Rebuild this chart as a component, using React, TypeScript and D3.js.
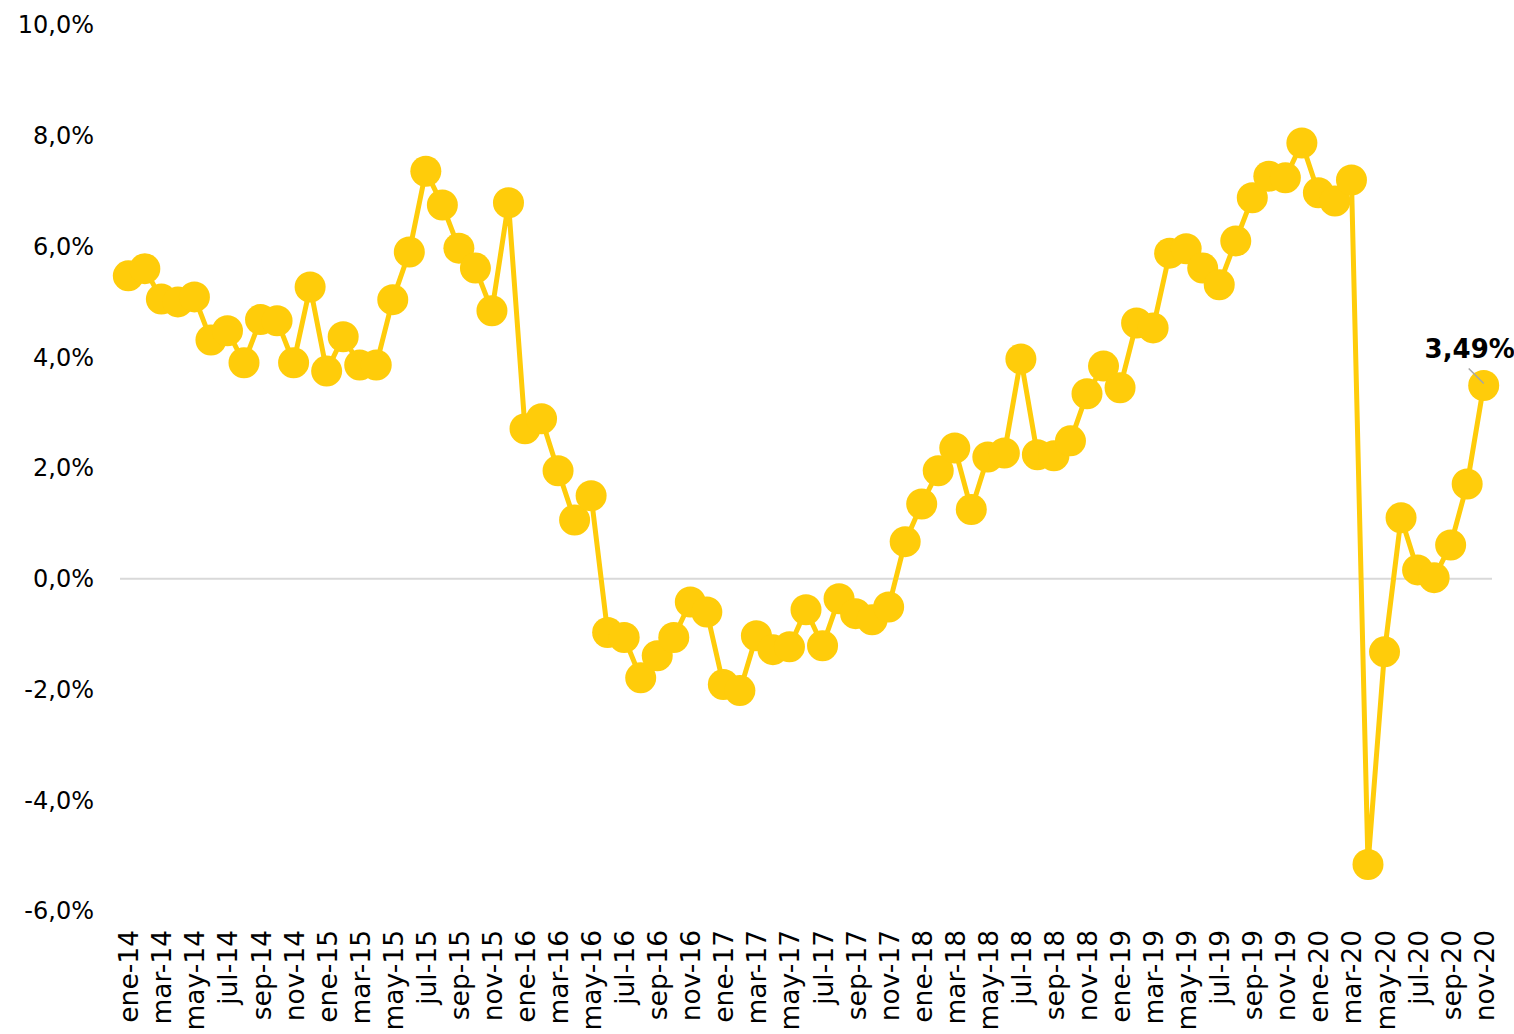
import React, { useEffect, useRef } from "react";
import * as d3 from "d3";

const monthNames = ["ene", "feb", "mar", "abr", "may", "jun", "jul", "ago", "sep", "oct", "nov", "dic"];
const years = ["14", "15", "16", "17", "18", "19", "20"];

const values: number[] = [
  // 2014
  5.47, 5.6, 5.05, 5.0, 5.09, 4.31, 4.48, 3.9, 4.68, 4.66, 3.9, 5.27,
  // 2015
  3.75, 4.37, 3.86, 3.86, 5.04, 5.9, 7.36, 6.75, 5.97, 5.61, 4.84, 6.79,
  // 2016
  2.71, 2.89, 1.95, 1.06, 1.5, -0.97, -1.06, -1.79, -1.39, -1.06, -0.42, -0.6,
  // 2017
  -1.91, -2.02, -1.03, -1.28, -1.23, -0.56, -1.21, -0.36, -0.63, -0.74, -0.51, 0.67,
  // 2018
  1.35, 1.95, 2.36, 1.25, 2.2, 2.27, 3.97, 2.24, 2.22, 2.49, 3.34, 3.84,
  // 2019
  3.45, 4.62, 4.53, 5.88, 5.96, 5.61, 5.31, 6.1, 6.88, 7.27, 7.24, 7.87,
  // 2020
  6.97, 6.82, 7.2, -5.16, -1.32, 1.1, 0.16, 0.02, 0.61, 1.71, 3.49,
];

const categories: string[] = values.map((_, i) => `${monthNames[i % 12]}-${years[Math.floor(i / 12)]}`);
const yTicks: number[] = [-6, -4, -2, 0, 2, 4, 6, 8, 10];
const lastLabel = "3,49%";

const W = 1514;
const H = 1034;
const COLOR = "#FFCC0A";
const FONT = "'DejaVu Sans', sans-serif";

export default function App() {
  const ref = useRef<SVGSVGElement>(null);

  useEffect(() => {
    const svg = d3.select(ref.current);
    svg.selectAll("*").remove();

    const x = d3.scalePoint<string>().domain(categories).range([128.3, 1483.7]);
    const y = d3.scaleLinear().domain([-6, 10]).range([911, 25]);

    // zero line
    svg
      .append("line")
      .attr("x1", 120)
      .attr("x2", 1492)
      .attr("y1", y(0))
      .attr("y2", y(0))
      .attr("stroke", "#d9d9d9")
      .attr("stroke-width", 2);

    // y tick labels
    svg
      .append("g")
      .selectAll("text")
      .data(yTicks)
      .join("text")
      .attr("x", 94)
      .attr("y", (d) => y(d))
      .attr("dy", "0.35em")
      .attr("text-anchor", "end")
      .attr("font-family", FONT)
      .attr("font-size", 24)
      .attr("fill", "#000")
      .text((d) => d.toFixed(1).replace(".", ",") + "%");

    // x tick labels (every 2 months)
    svg
      .append("g")
      .selectAll("text")
      .data(categories.filter((_, i) => i % 2 === 0))
      .join("text")
      .attr("transform", (d) => `translate(${x(d)! + 10},930) rotate(-90)`)
      .attr("text-anchor", "end")
      .attr("font-family", FONT)
      .attr("font-size", 26.5)
      .attr("fill", "#000")
      .text((d) => d);

    const line = d3
      .line<number>()
      .x((_, i) => x(categories[i])!)
      .y((d) => y(d));

    svg
      .append("path")
      .datum(values)
      .attr("d", line)
      .attr("fill", "none")
      .attr("stroke", COLOR)
      .attr("stroke-width", 5)
      .attr("stroke-linejoin", "round");

    svg
      .append("g")
      .selectAll("circle")
      .data(values)
      .join("circle")
      .attr("cx", (_, i) => x(categories[i])!)
      .attr("cy", (d) => y(d))
      .attr("r", 15.5)
      .attr("fill", COLOR);

    // annotation
    const lastIdx = values.length - 1;
    const lx = x(categories[lastIdx])!;
    const ly = y(values[lastIdx]);
    svg
      .append("line")
      .attr("x1", lx - 15)
      .attr("y1", ly - 17)
      .attr("x2", lx)
      .attr("y2", ly - 2)
      .attr("stroke", "#a6a6a6")
      .attr("stroke-width", 1.5);
    svg
      .append("text")
      .attr("x", lx - 14)
      .attr("y", ly - 27)
      .attr("text-anchor", "middle")
      .attr("font-family", FONT)
      .attr("font-weight", "bold")
      .attr("font-size", 26)
      .attr("fill", "#000")
      .text(lastLabel);
  }, []);

  return (
    <div style={{ position: "absolute", left: 0, top: 0 }}>
      <svg ref={ref} width={W} height={H} style={{ display: "block", background: "#fff" }} />
    </div>
  );
}
